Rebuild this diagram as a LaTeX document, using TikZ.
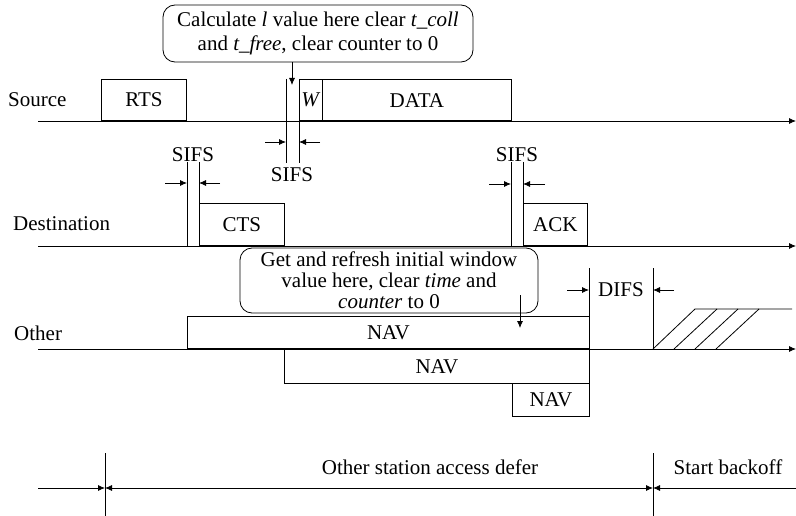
\documentclass[tikz,border=0pt]{standalone}
\usepackage{fontspec}
\setmainfont{Liberation Serif}
\usetikzlibrary{positioning, arrows.meta}

\tikzset{
    lbl/.style={font=\fontsize{21}{24}\selectfont, inner sep=0pt},
    frame/.style={draw, line width=0.8pt, inner sep=0pt, font=\fontsize{21}{24}\selectfont},
    tl/.style={line width=0.8pt, -{Latex[length=7pt,width=6pt]}},
    tick/.style={line width=0.8pt},
    gap/.style={line width=0.8pt, -{Latex[length=7pt,width=6pt]}},
    callout/.style={draw, line width=0.8pt, rounded corners=12pt, align=center, inner sep=0pt,
        font=\fontsize{21}{24}\selectfont},
}

\begin{document}
\begin{tikzpicture}[x=1pt, y=-1pt]
    \useasboundingbox (0,0) rectangle (796,516);

    % stations
    \node[lbl, anchor=west] (srcLbl) at (8,100) {Source};
    \node[lbl, anchor=west] (dstLbl) at (13,224) {Destination};
    \node[lbl, anchor=west] (othLbl) at (14,333) {Other};

    \coordinate (srcA) at (38,121);  \coordinate (srcB) at (796,121);
    \coordinate (dstA) at (38,246);  \coordinate (dstB) at (796,246);
    \coordinate (othA) at (38,349);  \coordinate (othB) at (796,349);
    \draw[tl] (srcA) -- (srcB);
    \draw[tl] (dstA) -- (dstB);
    \draw[tl] (othA) -- (othB);

    % frames
    \node[frame, anchor=south west, minimum width=85pt, minimum height=41pt] (rts) at (101,121) {RTS};
    \node[frame, anchor=south west, minimum width=23pt, minimum height=41pt] (win) at (299,121) {\textit{W}};
    \node[frame, anchor=south west, minimum width=189pt, minimum height=41pt] (data) at (322,121) {DATA};
    \node[frame, anchor=south west, minimum width=85pt, minimum height=42pt] (cts) at (199,246) {CTS};
    \node[frame, anchor=south west, minimum width=64pt, minimum height=42pt] (ack) at (523,246) {ACK};
    \node[frame, anchor=south west, minimum width=402pt, minimum height=32pt] (nav1) at (187,349) {NAV};
    \node[frame, anchor=north west, minimum width=305pt, minimum height=34pt] (nav2) at (284,349) {NAV};
    \node[frame, anchor=north west, minimum width=77pt, minimum height=33pt] (nav3) at (512,383) {NAV};

    % SIFS before DATA
    \coordinate (s1a) at (286,79);  \coordinate (s1b) at (286,163);
    \coordinate (s2a) at (299,79);  \coordinate (s2b) at (299,163);
    \draw[tick] (s1a) -- (s1b);
    \draw[tick] (s2a) -- (s2b);
    \coordinate (s1l) at (265,142);  \coordinate (s2r) at (320,142);
    \draw[gap] (s1l) -- (s1l -| s1a);
    \draw[gap] (s2r) -- (s2r -| s2a);
    \node[lbl] (sifsA) at (292,175) {SIFS};

    % SIFS before CTS
    \coordinate (s3a) at (187,162);  \coordinate (s3b) at (187,246);
    \coordinate (s4a) at (199,162);  \coordinate (s4b) at (199,246);
    \draw[tick] (s3a) -- (s3b);
    \draw[tick] (s4a) -- (s4b);
    \coordinate (s3l) at (165,183);  \coordinate (s4r) at (220,183);
    \draw[gap] (s3l) -- (s3l -| s3a);
    \draw[gap] (s4r) -- (s4r -| s4a);
    \node[lbl] (sifsB) at (193,155) {SIFS};

    % SIFS before ACK
    \coordinate (s5a) at (511,162);  \coordinate (s5b) at (511,246);
    \coordinate (s6a) at (523,162);  \coordinate (s6b) at (523,246);
    \draw[tick] (s5a) -- (s5b);
    \draw[tick] (s6a) -- (s6b);
    \coordinate (s5l) at (489,184);  \coordinate (s6r) at (545,184);
    \draw[gap] (s5l) -- (s5l -| s5a);
    \draw[gap] (s6r) -- (s6r -| s6a);
    \node[lbl] (sifsC) at (517,155) {SIFS};

    % DIFS
    \coordinate (d1a) at (589,268);  \coordinate (d1b) at (589,416);
    \coordinate (d2a) at (653,268);  \coordinate (d2b) at (653,349);
    \draw[tick] (d1a) -- (d1b);
    \draw[tick] (d2a) -- (d2b);
    \coordinate (d1l) at (567,290);  \coordinate (d2r) at (674,290);
    \draw[gap] (d1l) -- (d1l -| d1a);
    \draw[gap] (d2r) -- (d2r -| d2a);
    \node[lbl] (difs) at (621,290) {DIFS};

    % backoff window
    \draw[tick] (d2b) -- ++(42,-40) -- (792,309);
    \foreach \bx in {674,695,716}
        \draw[tick] (\bx,349) -- ++(43,-40);

    % notes
    \node[callout, minimum width=310pt, minimum height=57pt] (noteA) at (318,33.5)
        {Calculate \textit{l} value here clear \textit{t\_coll}\\ and \textit{t\_free}, clear counter to 0};
    \coordinate (noteAtip) at (292,85);
    \draw[gap] (noteAtip |- noteA.south) -- (noteAtip);

    \node[callout, minimum width=298pt, minimum height=65pt, font=\fontsize{21}{21}\selectfont] (noteB) at (389,280.5)
        {Get and refresh initial window\\ value here, clear \textit{time} and\\ \textit{counter} to 0};
    \coordinate (noteBa) at (520,295);  \coordinate (noteBtip) at (520,328);
    \draw[gap] (noteBa) -- (noteBtip);

    % access defer
    \coordinate (v1a) at (105,453);  \coordinate (v1b) at (105,516);
    \coordinate (v2a) at (653,453);  \coordinate (v2b) at (653,516);
    \draw[tick] (v1a) -- (v1b);
    \draw[tick] (v2a) -- (v2b);
    \coordinate (defA) at (38,488);  \coordinate (defB) at (796,488);
    \draw[gap] (defA) -- (defA -| v1a);
    \draw[gap, {Latex[length=7pt,width=6pt]}-{Latex[length=7pt,width=6pt]}] (defA -| v1a) -- (defA -| v2a);
    \draw[gap, {Latex[length=7pt,width=6pt]}-] (defA -| v2a) -- (defB);
    \node[lbl] (defer) at (430,467) {Other station access defer};
    \node[lbl] (backoff) at (728,467) {Start backoff};
\end{tikzpicture}
\end{document}
